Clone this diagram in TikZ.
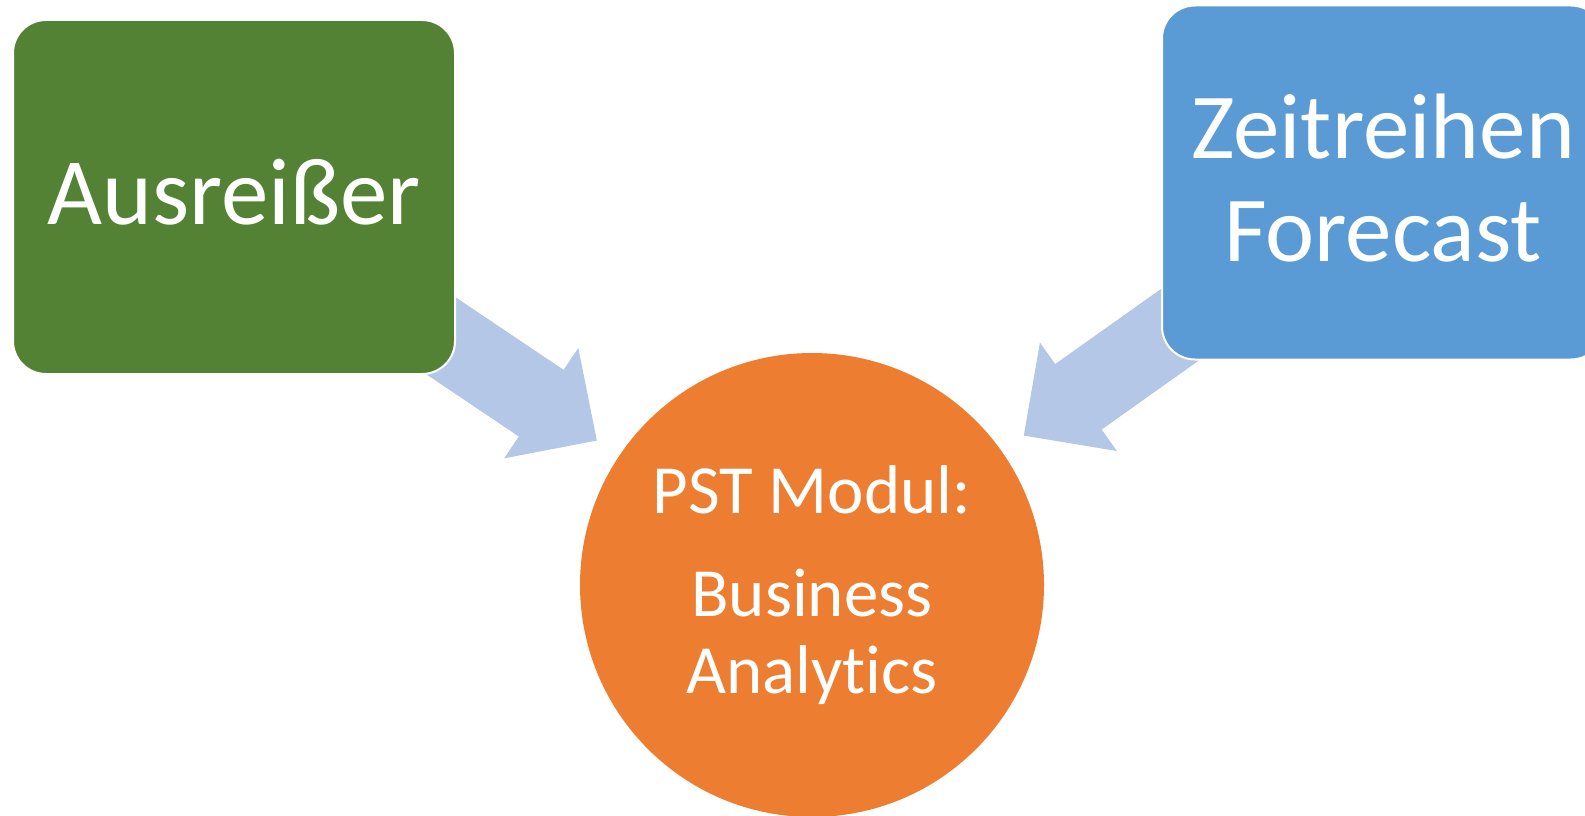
\documentclass[tikz,border=0pt]{standalone}
\usepackage{fontspec}
\setmainfont{Carlito}[Ligatures=NoCommon]
\usetikzlibrary{arrows.meta,backgrounds}
\definecolor{ausgreen}{HTML}{548235}
\definecolor{zeitblue}{HTML}{5B9BD5}
\definecolor{pstorange}{HTML}{ED7D31}
\definecolor{flowblue}{HTML}{B4C7E7}
\tikzset{
  topic/.style={rectangle,rounded corners=33pt,draw=white,line width=2pt,
    minimum width=442pt,minimum height=354pt,inner sep=0pt,text=white,
    align=center},
  core/.style={circle,fill=pstorange,minimum size=464pt,inner sep=0pt,
    text=white,align=center,font=\fontsize{69}{77}\selectfont},
  flow/.style={draw=flowblue,line width=80pt,shorten <=-90pt,shorten >=27pt,
    -{Triangle[length=67pt,width=133pt,line width=0pt]},
    postaction={draw=flowblue,line width=80pt,-,shorten <=-90pt,shorten >=77pt}}
}

\begin{document}
\begin{tikzpicture}[x=1pt,y=-1pt]
\useasboundingbox (0,0) rectangle (1585,816);
% the module in the middle
\node[core] (modul) at (812,585) {PST Modul:\\[26pt]Business\\Analytics};
% the two inputs
\node[topic,fill=ausgreen,text depth=11pt,font=\fontsize{95}{103}\selectfont]
  (ausreisser) at (234,197) {Ausreißer};
\node[topic,fill=zeitblue,text depth=9pt,font=\fontsize{93}{103}\selectfont]
  (zeitreihen) at (1383,182.5) {Zeitreihen\\Forecast};
\begin{scope}[on background layer]
\draw[flow] (ausreisser) -- (modul);
\draw[flow] (zeitreihen) -- (modul);
\end{scope}
\end{tikzpicture}
\end{document}
